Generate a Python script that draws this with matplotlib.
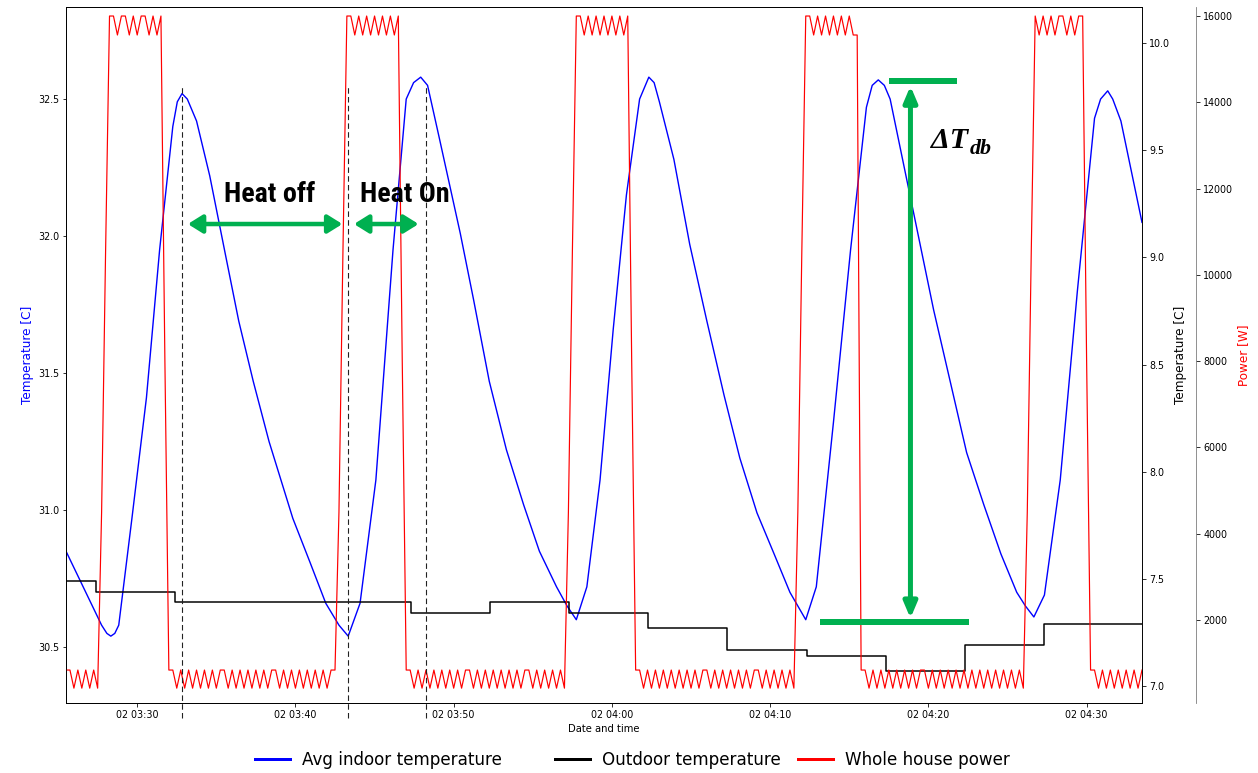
import numpy as np
import pandas as pd
import matplotlib
matplotlib.use("Agg")
import matplotlib.pyplot as plt
import matplotlib.dates as mdates
from matplotlib.lines import Line2D

day = "2023-01-02 "

# Avg indoor temperature [C]
indoor_times = ["03:25:30", "03:27:00", "03:27:45", "03:28:05", "03:28:20", "03:28:35", "03:28:50",
                "03:29:40", "03:30:35", "03:31:25", "03:32:15", "03:32:32", "03:32:50", "03:33:10",
                "03:33:45", "03:34:35", "03:35:35", "03:36:25", "03:37:20", "03:38:20", "03:39:50",
                "03:40:55", "03:41:55", "03:42:45", "03:43:20", "03:44:05", "03:45:05", "03:46:10",
                "03:47:00", "03:47:28", "03:47:55", "03:48:21", "03:49:05", "03:50:25", "03:51:15",
                "03:52:15", "03:53:20", "03:54:25", "03:55:25", "03:56:30", "03:57:10", "03:57:45",
                "03:58:25", "03:59:15", "04:00:05", "04:00:55", "04:01:45", "04:02:20", "04:02:40",
                "04:03:00", "04:03:55", "04:04:55", "04:06:00", "04:07:05", "04:08:05", "04:09:10",
                "04:10:15", "04:11:15", "04:12:15", "04:12:55", "04:14:00", "04:15:05", "04:16:05",
                "04:16:27", "04:16:50", "04:17:13", "04:17:35", "04:18:50", "04:20:20", "04:21:25",
                "04:22:25", "04:23:30", "04:24:35", "04:25:35", "04:26:08", "04:26:40", "04:27:20",
                "04:28:20", "04:29:25", "04:30:30", "04:30:53", "04:31:20", "04:31:39", "04:32:10",
                "04:33:30"]
indoor_temp = [30.85, 30.67, 30.58, 30.55, 30.54, 30.55, 30.58,
               30.97, 31.41, 31.95, 32.40, 32.49, 32.52, 32.50,
               32.42, 32.22, 31.93, 31.69, 31.47, 31.25, 30.97,
               30.81, 30.66, 30.58, 30.54, 30.66, 31.11, 31.95,
               32.50, 32.56, 32.58, 32.55, 32.36, 32.01, 31.77,
               31.47, 31.22, 31.02, 30.85, 30.72, 30.65, 30.60,
               30.72, 31.11, 31.66, 32.15, 32.50, 32.58, 32.56,
               32.49, 32.28, 31.97, 31.69, 31.42, 31.19, 30.99,
               30.84, 30.70, 30.60, 30.72, 31.32, 31.95, 32.47,
               32.55, 32.57, 32.55, 32.50, 32.15, 31.73, 31.46,
               31.21, 31.02, 30.84, 30.70, 30.65, 30.61, 30.69,
               31.11, 31.80, 32.43, 32.50, 32.53, 32.50, 32.42,
               32.05]

# Outdoor temperature [C] (value held until next reading)
outdoor_times = ["03:25:30", "03:27:25", "03:32:25", "03:47:20", "03:52:17", "03:57:17", "04:02:18",
                 "04:07:18", "04:12:18", "04:17:18", "04:22:18", "04:27:19", "04:33:30"]
outdoor_temp = [7.49, 7.44, 7.39, 7.34, 7.39, 7.34, 7.27, 7.17, 7.14, 7.07, 7.19, 7.29, 7.29]

# Whole house power, one letter per 15 s sample
power_start = "03:25:30"
power_code = ("LLlLlLlLl" "ab" "HHhHHhHhHHhHhH" "m"
              "LLlLlLlLlLlLl" "LLlLlLlLlLlLl" "LLlLlLlLlLlLlLl" "LL" "ab" "HHhHhHhHhHhHhH" "m"
              "LLlLlLlLlLlLlLl" "LLlLlLlLlLlLlLl" "LLlLlLlLlLl" "ab" "HHhHhHhHhHhHhH" "m"
              "LLlLlLlLlLlLlLlLlL" "LlLlLlLlLlLlL" "LlLlLlLlLl" "ab" "HHhHhHhHhHhHhh"
              "LLlLlLlLlLlLlLlL" "LlLlLlLlLlLlLlLlLlLlLlLlLl" "ab" "HhHhHhHHhHhHH" "m"
              "LLlLlLlLlLlLlL")
power_levels = {"L": 840, "l": 420, "H": 16000, "h": 15560, "a": 4500, "b": 10500, "m": 8000}

series_names = ["Avg indoor temperature", "Outdoor temperature", "Whole house power"]
series_colors = ["blue", "black", "red"]

dash_times = ["03:32:51", "03:43:21", "03:48:14"]

t_in = pd.to_datetime([day + s for s in indoor_times])
t_out = pd.to_datetime([day + s for s in outdoor_times])
t_pw = pd.date_range(day + power_start, periods=len(power_code), freq="15s")
power = [power_levels[c] for c in power_code]


def tn(s):
    return mdates.date2num(pd.Timestamp(day + s))


W, H = 1258, 773
fig = plt.figure(figsize=(W / 72, H / 72), dpi=72)
ax1 = fig.add_axes([66 / W, 70 / H, 1076 / W, 696 / H])
ax2 = ax1.twinx()
ax3 = ax1.twinx()
ax3.spines["right"].set_position(("axes", 1.0502))
ax3.spines["right"].set_color("#777777")

ax1.plot(t_in, indoor_temp, color=series_colors[0], lw=1.4)
ax2.plot(t_out, outdoor_temp, color=series_colors[1], lw=1.5, drawstyle="steps-post")
ax3.plot(t_pw, power, color=series_colors[2], lw=1.2)

ax1.set_ylim(30.296, 32.836)
ax1.set_yticks([30.5, 31.0, 31.5, 32.0, 32.5])
ax2.set_ylim(6.921, 10.168)
ax2.set_yticks([7.0, 7.5, 8.0, 8.5, 9.0, 9.5, 10.0])
ax3.set_ylim(76, 16209)
ax3.set_yticks([2000, 4000, 6000, 8000, 10000, 12000, 14000, 16000])

for a in (ax1, ax2, ax3):
    a.tick_params(labelsize=9.5)

ax1.set_xlabel("Date and time", fontsize=10)
ax1.set_ylabel("Temperature [C]", color="blue", fontsize=12)
ax2.set_ylabel("Temperature [C]", fontsize=12)
ax3.set_ylabel("Power [W]", color="red", fontsize=12)

# annotations (drawn on the top axes, in indoor-temperature coordinates)
green = "#00B050"
tr = ax1.transData
xtr = ax3.get_xaxis_transform()
for s in dash_times:
    ax3.add_artist(Line2D([tn(s), tn(s)], [-0.022, 0.888], transform=xtr, color="#222222",
                          lw=1.1, linestyle=(0, (5, 3)), clip_on=False))

harrow = dict(arrowstyle="<|-|>,head_length=1.2,head_width=0.75", mutation_scale=10,
              color=green, lw=4.5, shrinkA=0, shrinkB=0)
ax3.annotate("", xy=(tn("03:42:58"), 32.044), xytext=(tn("03:33:12"), 32.044),
             xycoords=tr, textcoords=tr, arrowprops=harrow)
ax3.annotate("", xy=(tn("03:47:47"), 32.044), xytext=(tn("03:43:42"), 32.044),
             xycoords=tr, textcoords=tr, arrowprops=harrow)

hfont = dict(family=["Liberation Sans Narrow", "Roboto Condensed", "Roboto"], weight="bold", size=28)
ax3.text(tn("03:35:30"), 32.124, "Heat off", transform=tr, ha="left", va="baseline", **hfont)
ax3.text(tn("03:44:03"), 32.124, "Heat On", transform=tr, ha="left", va="baseline", **hfont)

ax3.add_artist(Line2D([tn("04:17:32"), tn("04:21:50")], [32.566, 32.566], transform=tr,
                      color=green, lw=6, solid_capstyle="butt"))
ax3.add_artist(Line2D([tn("04:13:10"), tn("04:22:35")], [30.591, 30.591], transform=tr,
                      color=green, lw=6, solid_capstyle="butt"))
varrow = dict(arrowstyle="<|-|>,head_length=1.3,head_width=0.55", mutation_scale=10,
              color=green, lw=5, shrinkA=0, shrinkB=0)
ax3.annotate("", xy=(tn("04:18:52"), 32.548), xytext=(tn("04:18:52"), 30.605),
             xycoords=tr, textcoords=tr, arrowprops=varrow)

sfont = dict(family=["Liberation Serif", "DejaVu Serif"], weight="bold", style="italic")
ax3.text(tn("04:20:11"), 32.321, "\u0394T", transform=tr, ha="left", va="baseline", size=30, **sfont)
ax3.text(tn("04:22:37"), 32.298, "db", transform=tr, ha="left", va="baseline", size=22, **sfont)

ax1.set_xlim(t_pw[0], t_pw[-1])

# legend entries placed one by one along the bottom
legend_x = [255, 555, 798]
for name, col, x in zip(series_names, series_colors, legend_x):
    fig.legend([Line2D([], [], color=col, lw=3)], [name], loc="center left",
               bbox_to_anchor=(x / W, 1 - 760 / H), frameon=False, fontsize=16.7,
               borderpad=0, borderaxespad=0, handlelength=2.1, handletextpad=0.7)

fig.savefig("out.png", dpi=72, facecolor="white")
